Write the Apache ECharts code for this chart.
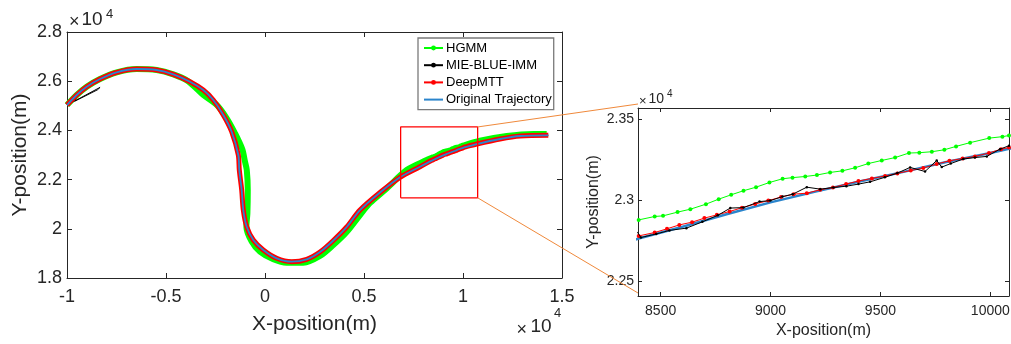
<!DOCTYPE html>
<html><head><meta charset="utf-8">
<script src="https://cdn.jsdelivr.net/npm/echarts@6/dist/echarts.min.js"></script>
<style>html,body{margin:0;padding:0;background:#fff}#c{width:1011px;height:344px}</style>
</head><body><div id="c"></div>
<script>
// ---------------- data ----------------
const seriesNames = ['HGMM', 'MIE-BLUE-IMM', 'DeepMTT', 'Original Trajectory'];

const mainXTicks = [-10000, -5000, 0, 5000, 10000, 15000];
const mainXTickLabels = ['-1', '-0.5', '0', '0.5', '1', '1.5'];
const mainYTicks = [18000, 20000, 22000, 24000, 26000, 28000];
const mainYTickLabels = ['1.8', '2', '2.2', '2.4', '2.6', '2.8'];
const zoomXTicks = [8500, 9000, 9500, 10000];
const zoomXTickLabels = ['8500', '9000', '9500', '10000'];
const zoomYTicks = [22500, 23000, 23500];
const zoomYTickLabels = ['2.25', '2.3', '2.35'];

const mainXRange = [-10000, 15000];
const mainYRange = [18000, 28000];
const zoomXRange = [8397, 10085];
const zoomYRange = [22407, 23568];
const zoomBoxX = [6850, 10740];
const zoomBoxY = [21260, 24140];

// Original trajectory
const truthHead = [[-10000,25030],[-9510,25439],[-9005,25776],[-8333,26089],[-7490,26362],[-6480,26496],[-5470,26455],[-4631,26280],[-3788,25980],[-3116,25642],[-2611,25236],[-2106,24626],[-1682,23947],[-1348,23000],[-1298,22390],[-1177,21577],[-1096,20764],[-924,20085],[-591,19545],[-86,19138],[591,18801],[1348,18663],[2106,18760],[2778,19056],[3449,19524],[4126,20073],[4798,20764],[5808,21476],[6818,22093],[7828,22524]];
const truthZoom = [[8400,22762],[8600,22835],[8800,22912],[9000,22985],[9200,23050],[9400,23112],[9600,23172],[9800,23235],[10000,23290],[10085,23316]];
const truthTail = [[10692,23447],[11869,23650],[12879,23772],[14308,23801]];

// HGMM
const hgmmHead = [[-10000,25030],[-9510,25439],[-9005,25776],[-8333,26089],[-7490,26362],[-6480,26496],[-5470,26455],[-4631,26280],[-3900,26010],[-3116,25439],[-2439,25033],[-1934,24492],[-1515,23882],[-1150,23240],[-1010,22728],[-920,22390],[-870,21577],[-890,20630],[-940,20085],[-672,19476],[-253,19069],[419,18760],[1096,18622],[1934,18622],[2778,18894],[3449,19341],[4126,19870],[4798,20560],[5303,21050],[6145,21638],[7157,22390],[8167,22797]];
const hgmmZoom = [[8400,22877],[8473,22898],[8511,22902],[8577,22925],[8635,22943],[8706,22974],[8764,23005],[8821,23032],[8877,23057],[8934,23079],[8995,23108],[9055,23131],[9100,23138],[9158,23145],[9211,23154],[9271,23170],[9327,23180],[9385,23199],[9445,23225],[9506,23244],[9567,23262],[9630,23290],[9677,23292],[9734,23298],[9791,23310],[9844,23331],[9908,23354],[9995,23382],[10055,23391],[10085,23398]];
const hgmmTail = [[10859,23581],[12207,23772],[13551,23854],[14227,23854]];

// MIE-BLUE-IMM
const mieStart = [[-10000,25030],[-9300,25330],[-8330,25750],[-8460,25650],[-8360,25715],[-9600,25190]];
const mieZoom = [[8395,22800],[8410,22768],[8480,22790],[8540,22812],[8617,22826],[8690,22865],[8760,22905],[8817,22950],[8877,22953],[8950,22990],[8999,22996],[9055,23021],[9100,23035],[9165,23079],[9226,23067],[9286,23077],[9345,23085],[9400,23098],[9453,23112],[9520,23140],[9577,23166],[9635,23201],[9703,23176],[9756,23244],[9779,23203],[9820,23225],[9877,23253],[9930,23262],[9984,23269],[10044,23314],[10085,23335]];

// DeepMTT
const deepZoom = [[8400,22778],[8473,22799],[8529,22822],[8585,22846],[8643,22863],[8699,22888],[8756,22908],[8814,22929],[8870,22952],[8930,22975],[8990,22996],[9048,23018],[9105,23036],[9165,23042],[9226,23063],[9284,23077],[9344,23098],[9400,23117],[9461,23133],[9521,23148],[9577,23164],[9638,23182],[9695,23197],[9756,23222],[9814,23242],[9874,23256],[9930,23269],[9994,23290],[10049,23314],[10085,23324]];

// full paths
const truthPath = truthHead.concat(truthZoom, truthTail);
const hgmmPath = hgmmHead.concat(hgmmZoom, hgmmTail);
const deepPath = truthHead.concat(deepZoom, truthTail);
const miePath = mieStart.concat(truthHead.slice(1), mieZoom, truthTail);
const zoomBoxPath = [[zoomBoxX[0],zoomBoxY[0]],[zoomBoxX[1],zoomBoxY[0]],[zoomBoxX[1],zoomBoxY[1]],[zoomBoxX[0],zoomBoxY[1]],[zoomBoxX[0],zoomBoxY[0]]];

// ---------------- chart ----------------
const FONT = '"Liberation Sans", Arial, Helvetica, sans-serif';
const AX = '#262626';
const C = {green:'#00FF00', black:'#000000', red:'#FF0000', blue:'#2B85CC'};

function lbl(ticks, labels) { return v => { const i = ticks.indexOf(v); return i >= 0 ? labels[i] : ''; }; }

function axis(kind, o) {
  const a = {
    type: 'value', gridIndex: o.grid, position: o.pos, min: o.range[0], max: o.range[1],
    scale: true,
    axisLine: {show: true, onZero: false, lineStyle: {color: AX, width: 1}},
    axisTick: {show: true, inside: true, length: o.tickLen, customValues: o.ticks, lineStyle: {color: AX, width: 1}},
    axisLabel: o.labels ? {show: true, customValues: o.ticks, formatter: lbl(o.ticks, o.labels), fontSize: o.fs, color: AX, fontFamily: FONT, margin: o.margin} : {show: false},
    splitLine: {show: false}
  };
  if (o.name) {
    a.name = o.name; a.nameLocation = 'middle'; a.nameGap = o.nameGap;
    a.nameTextStyle = {fontSize: o.nameFs, color: AX, fontFamily: FONT};
    a.nameMoveOverlap = false;
  }
  return a;
}

const chart = echarts.init(document.getElementById('c'), null, {renderer: 'canvas'});

const option = {
  animation: false,
  backgroundColor: '#fff',
  grid: [
    {left: 67, top: 32, width: 495, height: 246, outerBoundsMode: 'none', containLabel: false},
    {left: 638, top: 108, width: 371, height: 188, outerBoundsMode: 'none', containLabel: false}
  ],
  xAxis: [
    axis('x', {grid:0, pos:'bottom', range: mainXRange, ticks: mainXTicks, labels: mainXTickLabels, fs: 18, margin: 10.5, tickLen: 5, name: 'X-position(m)', nameGap: 36, nameFs: 21}),
    axis('x', {grid:0, pos:'top', range: mainXRange, ticks: mainXTicks, tickLen: 5}),
    axis('x', {grid:1, pos:'bottom', range: zoomXRange, ticks: zoomXTicks, labels: zoomXTickLabels, fs: 14, margin: 8.5, tickLen: 4, name: 'X-position(m)', nameGap: 27, nameFs: 16}),
    axis('x', {grid:1, pos:'top', range: zoomXRange, ticks: zoomXTicks, tickLen: 4})
  ],
  yAxis: [
    axis('y', {grid:0, pos:'left', range: mainYRange, ticks: mainYTicks, labels: mainYTickLabels, fs: 18, margin: 5, tickLen: 5, name: 'Y-position(m)', nameGap: 36, nameFs: 21}),
    axis('y', {grid:0, pos:'right', range: mainYRange, ticks: mainYTicks, tickLen: 5}),
    axis('y', {grid:1, pos:'left', range: zoomYRange, ticks: zoomYTicks, labels: zoomYTickLabels, fs: 14, margin: 4, tickLen: 4, name: 'Y-position(m)', nameGap: 36, nameFs: 16}),
    axis('y', {grid:1, pos:'right', range: zoomYRange, ticks: zoomYTicks, tickLen: 4})
  ],
  legend: {
    data: [seriesNames[0], seriesNames[1], seriesNames[2], {name: seriesNames[3], itemStyle: {color: 'rgba(0,0,0,0)', borderWidth: 0, opacity: 0}}],
    orient: 'vertical', left: 418, top: 38,
    padding: [3.5, 2, 3.5, 5], itemGap: 4.2, itemWidth: 19, itemHeight: 6,
    borderColor: '#7a7a7a', borderWidth: 1.3, backgroundColor: '#fff', borderRadius: 0,
    selectedMode: false,
    textStyle: {fontSize: 13, color: '#000', fontFamily: FONT, padding: [0,0,0,-2]}
  },
  series: [
    // inset series (first -> used for legend icons)
    {name: seriesNames[0], type: 'line', xAxisIndex: 2, yAxisIndex: 2, data: hgmmPath, clip: true, z: 3,
     symbol: 'circle', symbolSize: 4, showSymbol: true, lineStyle: {color: C.green, width: 1}, itemStyle: {color: C.green}},
    {name: seriesNames[1], type: 'line', xAxisIndex: 2, yAxisIndex: 2, data: miePath, clip: true, z: 5,
     symbol: 'circle', symbolSize: 2.5, showSymbol: true, lineStyle: {color: C.black, width: 1}, itemStyle: {color: C.black}},
    {name: seriesNames[2], type: 'line', xAxisIndex: 2, yAxisIndex: 2, data: deepPath, clip: true, z: 4,
     symbol: 'circle', symbolSize: 4, showSymbol: true, lineStyle: {color: C.red, width: 1}, itemStyle: {color: C.red}},
    {name: seriesNames[3], type: 'line', xAxisIndex: 2, yAxisIndex: 2, data: truthPath, clip: true, z: 3,
     symbol: 'none', lineStyle: {color: C.blue, width: 2.5}, itemStyle: {color: C.blue}},
    // main plot series
    {name: seriesNames[0], type: 'line', xAxisIndex: 0, yAxisIndex: 0, data: hgmmPath, smooth: 0.3, z: 2,
     symbol: 'none', lineStyle: {color: C.green, width: 6}},
    {name: seriesNames[1], type: 'line', xAxisIndex: 0, yAxisIndex: 0, data: miePath, z: 2,
     symbol: 'none', lineStyle: {color: C.black, width: 1}},
    {name: seriesNames[2], type: 'line', xAxisIndex: 0, yAxisIndex: 0, data: deepPath, smooth: 0.3, z: 2,
     symbol: 'none', lineStyle: {color: C.red, width: 5}},
    {name: seriesNames[3], type: 'line', xAxisIndex: 0, yAxisIndex: 0, data: truthPath, smooth: 0.3, z: 2,
     symbol: 'none', lineStyle: {color: C.blue, width: 1.8}},
    // zoom rectangle
    {name: 'zoomBox', type: 'line', xAxisIndex: 0, yAxisIndex: 0, data: zoomBoxPath, z: 6, silent: true,
     symbol: 'none', lineStyle: {color: '#FF0000', width: 1.3}}
  ]
};
chart.setOption(option);

// connector lines and exponent labels
const pA = chart.convertToPixel({xAxisIndex: 0, yAxisIndex: 0}, [zoomBoxX[1], zoomBoxY[1]]);
const pB = chart.convertToPixel({xAxisIndex: 2, yAxisIndex: 2}, [zoomXRange[0], zoomYRange[1]]);
const pC = chart.convertToPixel({xAxisIndex: 0, yAxisIndex: 0}, [zoomBoxX[1], zoomBoxY[0]]);
const pD = chart.convertToPixel({xAxisIndex: 2, yAxisIndex: 2}, [zoomXRange[0], zoomYRange[0]]);

function txt(t, x, y, fs) {
  return {type: 'text', silent: true, z: 100, style: {text: t, x: x, y: y, fontSize: fs, fontFamily: FONT, fill: AX,
    textAlign: 'left', textVerticalAlign: 'middle', align: 'left', verticalAlign: 'middle'}};
}

chart.setOption({
  graphic: [
    {type: 'line', silent: true, z: 50, shape: {x1: pA[0], y1: pA[1], x2: pB[0], y2: pB[1] - 4}, style: {stroke: '#F0893B', lineWidth: 1}},
    {type: 'line', silent: true, z: 50, shape: {x1: pC[0], y1: pC[1], x2: pD[0], y2: pD[1] - 3}, style: {stroke: '#F0893B', lineWidth: 1}},
    txt('\u00d7', 69, 22, 18), txt('10', 81.5, 20, 19), txt('4', 106, 14, 13),
    txt('\u00d7', 516.5, 330, 18), txt('10', 530.5, 327, 19), txt('4', 554, 313.5, 13),
    txt('\u00d7', 639, 101.5, 13), txt('10', 648.5, 99.5, 14), txt('4', 667, 94, 10)
  ]
});
</script>
</body></html>
